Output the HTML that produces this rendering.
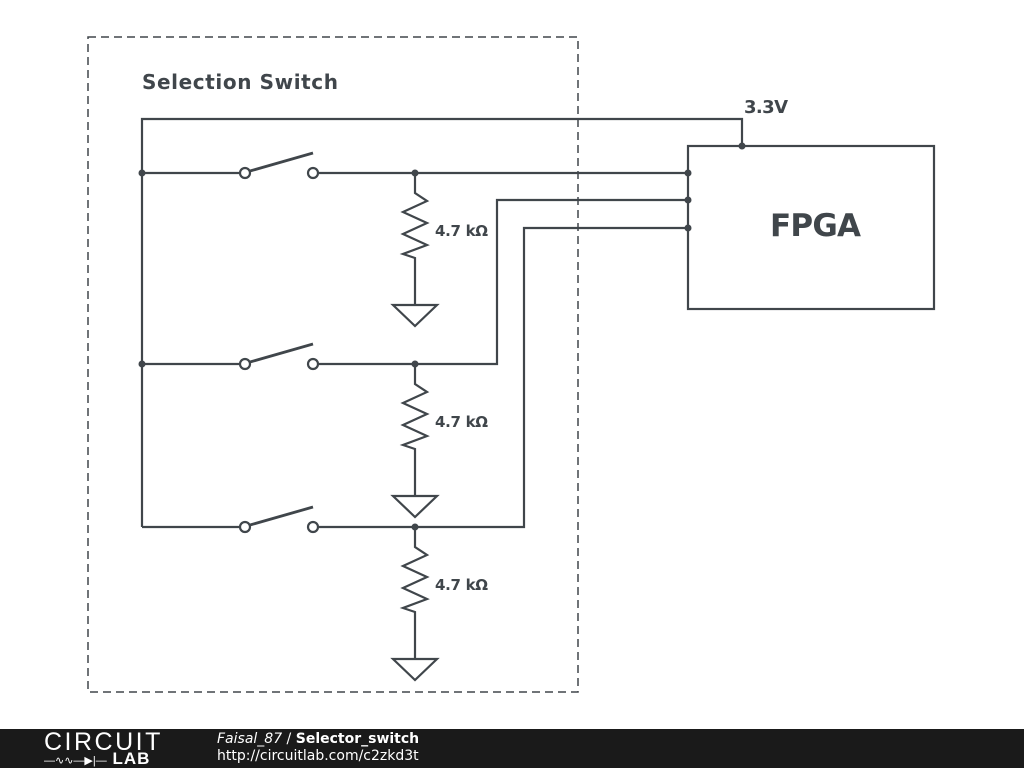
<!DOCTYPE html>
<html><head><style>
body{margin:0;width:1024px;height:768px;background:#fff;overflow:hidden;position:relative;font-family:"Liberation Sans","DejaVu Sans",sans-serif}
.bar{position:absolute;left:0;top:729px;width:1024px;height:39px;background:#1a1a1a}
</style></head><body>
<svg width="1024" height="729" style="position:absolute;left:0;top:0" font-family="DejaVu Sans, sans-serif">
<g stroke="#40464b" stroke-width="2.2" fill="none">
<rect x="88" y="37" width="490" height="655" stroke-dasharray="8,5" stroke-width="1.5"/>
<rect x="688" y="146" width="246" height="163"/>
<polyline points="142,527 142,119 742,119 742,146"/>
<line x1="142" y1="173" x2="240" y2="173"/><line x1="318" y1="173" x2="688" y2="173"/>
<line x1="142" y1="364" x2="240" y2="364"/><polyline points="318,364 497,364 497,200 688,200"/>
<line x1="142" y1="527" x2="240" y2="527"/><polyline points="318,527 524,527 524,228 688,228"/>
<g id="sw">
<circle cx="245" cy="173" r="5" fill="#fff"/><circle cx="313" cy="173" r="5" fill="#fff"/>
<line x1="250" y1="171" x2="313" y2="153" stroke-width="2.8"/>
</g>
<use href="#sw" y="191"/><use href="#sw" y="354"/>
<g id="r">
<polyline points="415,173 415,193 427,201 403,212 427,223 403,234 427,245 403,254 415,258 415,305"/>
<polygon points="393,305 437,305 415,326"/>
</g>
<use href="#r" y="191"/><use href="#r" y="354"/>
</g>
<g fill="#40464b">
<circle cx="142" cy="173" r="3.5"/><circle cx="142" cy="364" r="3.5"/>
<circle cx="415" cy="173" r="3.5"/><circle cx="415" cy="364" r="3.5"/><circle cx="415" cy="527" r="3.5"/>
<circle cx="742" cy="146" r="3.5"/><circle cx="688" cy="173" r="3.5"/><circle cx="688" cy="200" r="3.5"/><circle cx="688" cy="228" r="3.5"/>
<text x="142" y="89" font-size="20" font-weight="bold" textLength="196">Selection Switch</text>
<text x="744" y="113" font-size="18" font-weight="bold" textLength="44">3.3V</text>
<text x="770" y="236" font-size="31" font-weight="bold" textLength="91">FPGA</text>
<text x="435" y="236" font-size="15" font-weight="bold" textLength="53">4.7 kΩ</text>
<text x="435" y="427" font-size="15" font-weight="bold" textLength="53">4.7 kΩ</text>
<text x="435" y="590" font-size="15" font-weight="bold" textLength="53">4.7 kΩ</text>
</g>
</svg>
<div class="bar">
<div style="position:absolute;left:44px;top:0px;color:#fff;font-size:25px;letter-spacing:2.5px;line-height:26px">CIRCUIT</div>
<div style="position:absolute;left:44px;top:22px;color:#fff;font-size:11px;line-height:16px;white-space:nowrap">—∿∿—▶|—<b style="font-size:17px;letter-spacing:1px"> LAB</b></div>
<div style="position:absolute;left:217px;top:2px;color:#fff;font-size:14px;line-height:17px;font-family:'DejaVu Sans',sans-serif"><i>Faisal_87</i> / <b>Selector_switch</b><br>http://circuitlab.com/c2zkd3t</div>
</div>
</body></html>
